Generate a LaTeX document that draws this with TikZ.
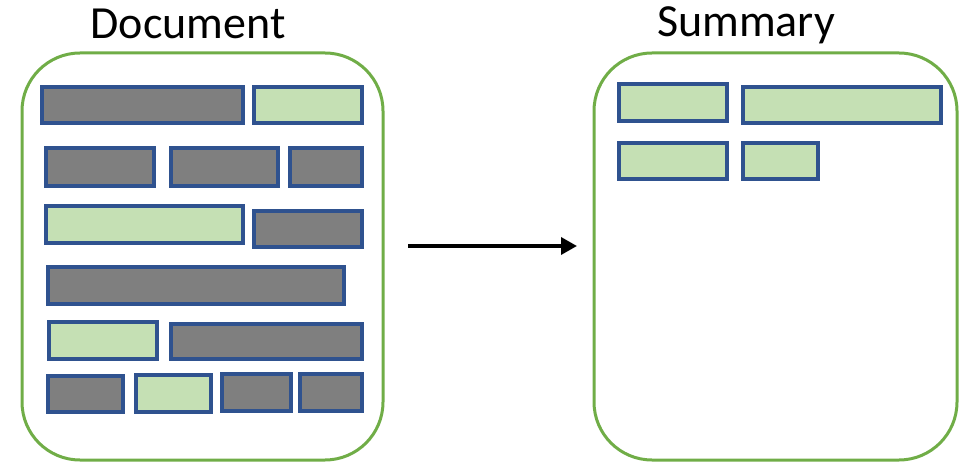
\documentclass[tikz,border=0pt]{standalone}
\usepackage{fontspec}
\setmainfont{Carlito}
\usetikzlibrary{arrows.meta}
\definecolor{frameGreen}{HTML}{70AD47}
\definecolor{blockBlue}{HTML}{2F528F}
\definecolor{blockGray}{HTML}{7F7F7F}
\definecolor{blockGreen}{HTML}{C5E0B4}
\tikzset{
  panel/.style={draw=frameGreen, line width=3pt, rounded corners=58pt},
  textblock/.style={draw=blockBlue, line width=3.2pt},
  plain/.style={textblock, fill=blockGray},
  kept/.style={textblock, fill=blockGreen},
  caption/.style={font=\fontsize{46}{55}\selectfont, anchor=base},
}
\newcommand{\blk}[5]{\path[#1] (#2,#3) rectangle (#4,#5);}
\begin{document}
\begin{tikzpicture}[x=1pt, y=-1pt]
\useasboundingbox (0,0) rectangle (964,462);
% panels
\draw[panel] (22,53) rectangle (383,460);
\draw[panel] (594,53) rectangle (957,460);
% titles
\node[caption] (doc) at (188,39) {Document};
\node[caption] (sum) at (746,37) {Summary};
% document blocks
\blk{plain}{42}{87}{243}{123}
\blk{kept}{254}{87}{362}{123}
\blk{plain}{46}{148}{154}{186}
\blk{plain}{171}{148}{278}{186}
\blk{plain}{290}{148}{362}{186}
\blk{kept}{46}{206}{243}{243}
\blk{plain}{254}{211}{362}{247}
\blk{plain}{48}{267}{344}{304}
\blk{kept}{49}{322}{157}{359}
\blk{plain}{171}{324}{362}{359}
\blk{plain}{48}{376}{123}{412}
\blk{kept}{136}{375}{211}{412}
\blk{plain}{222}{374}{291}{411}
\blk{plain}{300}{374}{362}{411}
% summary blocks
\blk{kept}{619}{84}{727}{121}
\blk{kept}{743}{87}{941}{123}
\blk{kept}{619}{143}{727}{179}
\blk{kept}{743}{143}{818}{179}
% arrow
\coordinate (from) at (408,246);
\coordinate (to) at (577,246);
\draw[line width=3.5pt, -{Triangle[length=16pt, width=17pt]}] (from) -- (to);
\end{tikzpicture}
\end{document}
